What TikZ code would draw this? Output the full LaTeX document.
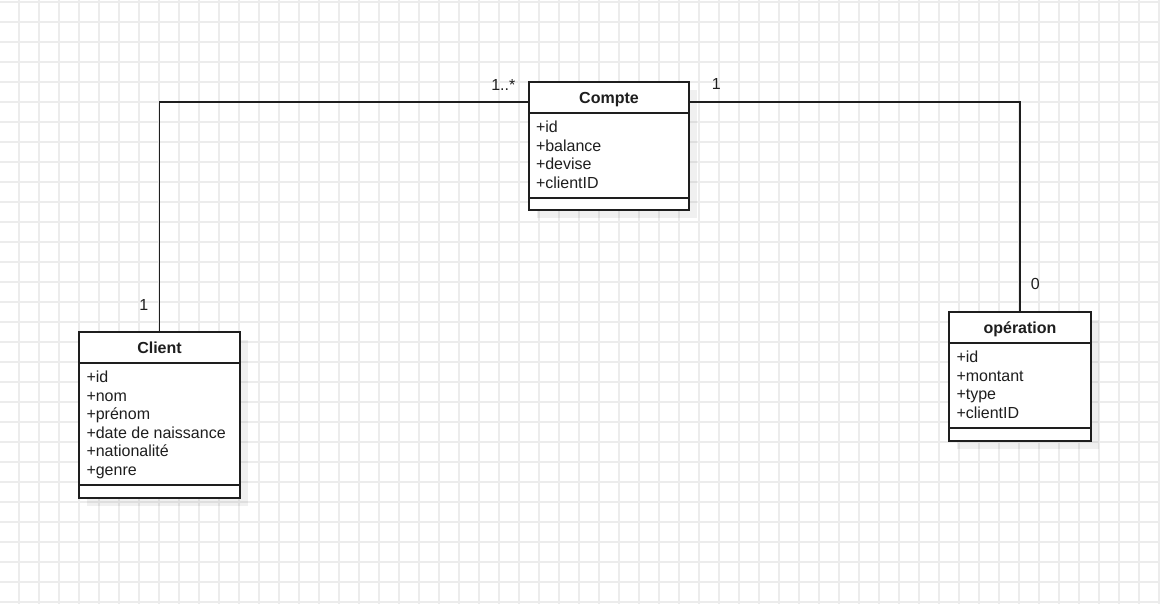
\documentclass[tikz,border=0pt]{standalone}
\usepackage{fontspec}
\setmainfont{Liberation Sans}
\usetikzlibrary{shadows}
\definecolor{gridgray}{HTML}{ECECEC}
\definecolor{ink}{HTML}{1E1E1E}
\begin{document}
\begin{tikzpicture}[x=1pt,y=-1pt,
  every node/.style={inner sep=0pt, outer sep=0pt},
  gridline/.style={draw=gridgray, line width=1.5pt},
  classbox/.style={rectangle, draw=ink, line width=1.3pt, fill=white, anchor=north west,
    drop shadow={shadow xshift=8pt, shadow yshift=-8pt, fill=black, opacity=0.06}},
  sepline/.style={draw=ink, line width=1.3pt},
  assoc/.style={draw=ink, line width=1.3pt},
  classtitle/.style={font=\fontsize{16}{19}\selectfont\bfseries, anchor=base, text=ink},
  attr/.style={font=\fontsize{16}{19}\selectfont, anchor=base west, text=ink},
  mult/.style={font=\fontsize{16}{19}\selectfont, anchor=base, text=ink}
]
\useasboundingbox (0,0) rectangle (1160,604);
\fill[white] (0,0) rectangle (1160,604);

% background grid, 20 units
\foreach \i in {0,...,57} \draw[gridline] (19+20*\i,0) -- (19+20*\i,604);
\foreach \j in {0,...,30} \draw[gridline] (0,2+20*\j) -- (1160,2+20*\j);

% class Compte
\node[classbox, minimum width=160pt, minimum height=128pt] (compte) at (529,82) {};
\draw[sepline] ([yshift=-31pt]compte.north west) -- ([yshift=-31pt]compte.north east);
\draw[sepline] ([yshift=-116pt]compte.north west) -- ([yshift=-116pt]compte.north east);
\node[classtitle] (compte-title) at ([yshift=-21.3pt]compte.north) {Compte};
\foreach \t [count=\k] in {id,balance,devise,clientID}{
  \pgfmathsetmacro\yy{50.7+18.5*(\k-1)}
  \node[attr] (compte-a\k) at ([xshift=7pt,yshift=-\yy pt]compte.north west) {+\t};
}

% class Client
\node[classbox, minimum width=161pt, minimum height=166pt] (client) at (79,332) {};
\draw[sepline] ([yshift=-31pt]client.north west) -- ([yshift=-31pt]client.north east);
\draw[sepline] ([yshift=-153pt]client.north west) -- ([yshift=-153pt]client.north east);
\node[classtitle] (client-title) at ([yshift=-21.3pt]client.north) {Client};
\foreach \t [count=\k] in {id,nom,prénom,date de naissance,nationalité,genre}{
  \pgfmathsetmacro\yy{50.7+18.5*(\k-1)}
  \node[attr] (client-a\k) at ([xshift=7.5pt,yshift=-\yy pt]client.north west) {+\t};
}

% class opération
\node[classbox, minimum width=142pt, minimum height=129pt] (operation) at (949,312) {};
\draw[sepline] ([yshift=-31pt]operation.north west) -- ([yshift=-31pt]operation.north east);
\draw[sepline] ([yshift=-116pt]operation.north west) -- ([yshift=-116pt]operation.north east);
\node[classtitle] (operation-title) at ([yshift=-21.3pt]operation.north) {opération};
\foreach \t [count=\k] in {id,montant,type,clientID}{
  \pgfmathsetmacro\yy{50.7+18.5*(\k-1)}
  \node[attr] (operation-a\k) at ([xshift=7.5pt,yshift=-\yy pt]operation.north west) {+\t};
}

% associations
\draw[assoc] ([yshift=-20pt]compte.north west) -| (client.north);
\draw[assoc] ([yshift=-20pt]compte.north east) -| (operation.north);

% multiplicities
\node[mult] (m-compte-client) at (503.3,90.7) {1..*};
\node[mult] (m-compte-operation) at (716.3,90) {1};
\node[mult] (m-client) at (143.7,310) {1};
\node[mult] (m-operation) at (1035.2,290) {0};
\end{tikzpicture}
\end{document}
